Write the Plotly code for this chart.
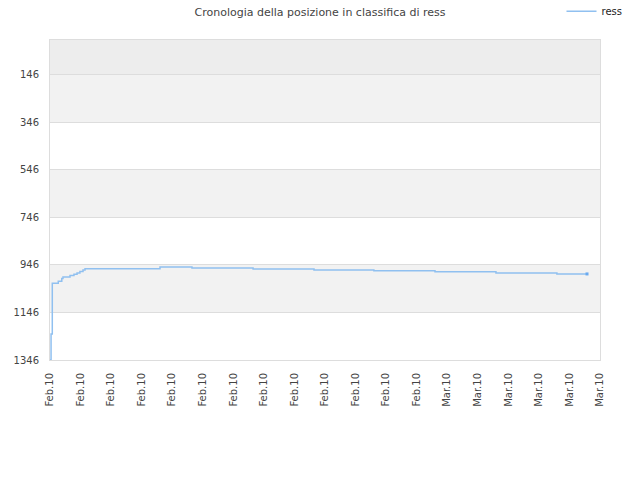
import plotly.graph_objects as go

# ---------------- Data ---------------- #

dates = [
    "2010-02-04 00:00", "2010-02-04 01:40", "2010-02-04 03:36", "2010-02-04 13:00",
    "2010-02-04 18:30", "2010-02-04 20:24", "2010-02-05 07:26", "2010-02-05 13:40",
    "2010-02-05 18:29", "2010-02-05 23:00", "2010-02-06 03:50", "2010-02-06 07:00",
    "2010-02-11 04:48", "2010-02-13 07:00", "2010-02-17 07:00", "2010-02-21 06:43",
    "2010-02-25 04:48", "2010-03-01 04:48", "2010-03-05 04:34", "2010-03-09 04:19",
    "2010-03-11 03:36",
]
ranks = [
    1346, 1237, 1023, 1015,
    1003, 997, 991, 985,
    980, 974, 967, 962,
    955, 959, 963, 967,
    971, 975, 980, 984,
    984,
]
y_ticks = [146, 346, 546, 746, 946, 1146, 1346]
series_name = "ress"
title_text = "Cronologia della posizione in classifica di ress"

line_color = "#90c0f0"
grid_color = "#dddddd"
text_color = "#444444"

# ---------------- Figure ---------------- #

fig = go.Figure()
fig.add_trace(go.Scatter(
    x=dates, y=ranks, name=series_name, mode="lines",
    line=dict(color=line_color, width=1.5, shape="hv"),
))
# end dot
fig.add_trace(go.Scatter(
    x=dates[-1:], y=ranks[-1:], mode="markers", showlegend=False,
    marker=dict(color="#6aaaf0", size=3, symbol="square"),
))

# alternating background bands
band_edges = [0] + y_ticks
band_colors = ["#ededed", "#f2f2f2", "#ffffff", "#f2f2f2", "#ffffff", "#f2f2f2", "#ffffff"]
for lo, hi, col in zip(band_edges[:-1], band_edges[1:], band_colors):
    fig.add_shape(type="rect", xref="paper", yref="y", x0=0, x1=1, y0=lo, y1=hi,
                  fillcolor=col, line=dict(width=0), layer="below")

fig.update_layout(
    width=640, height=480,
    margin=dict(l=50, r=40, t=40, b=120, autoexpand=False),
    paper_bgcolor="white", plot_bgcolor="white",
    font=dict(family="DejaVu Sans", size=10, color=text_color),
    title=dict(text=title_text, x=0.5, xref="container", y=0.975, yanchor="middle",
               font=dict(size=11, color=text_color)),
    legend=dict(x=0.93, y=1.09, xanchor="left", yanchor="middle",
                font=dict(size=10, color="#222222"), bgcolor="rgba(0,0,0,0)"),
    xaxis=dict(
        type="date", range=["2010-02-04", "2010-03-12"],
        tick0="2010-02-04", dtick=2 * 86400000, tickformat="%b.%y",
        tickangle=-90, showgrid=False, zeroline=False,
        showline=True, mirror=True, linecolor=grid_color, linewidth=1,
        ticks="", ticklabelstandoff=8, tickfont=dict(size=10, color=text_color),
    ),
    yaxis=dict(
        range=[1346, 0], tickvals=y_ticks, ticktext=[str(v) for v in y_ticks],
        showgrid=True, gridcolor=grid_color, zeroline=False,
        showline=True, mirror=True, linecolor=grid_color, linewidth=1,
        ticks="", ticklabelstandoff=8, tickfont=dict(size=10, color=text_color),
    ),
)

# drop the default page margin so the chart sits at the window's corner
fig.write_html("out.html", config={"displayModeBar": False},
               post_script="document.body.style.margin='0';")
